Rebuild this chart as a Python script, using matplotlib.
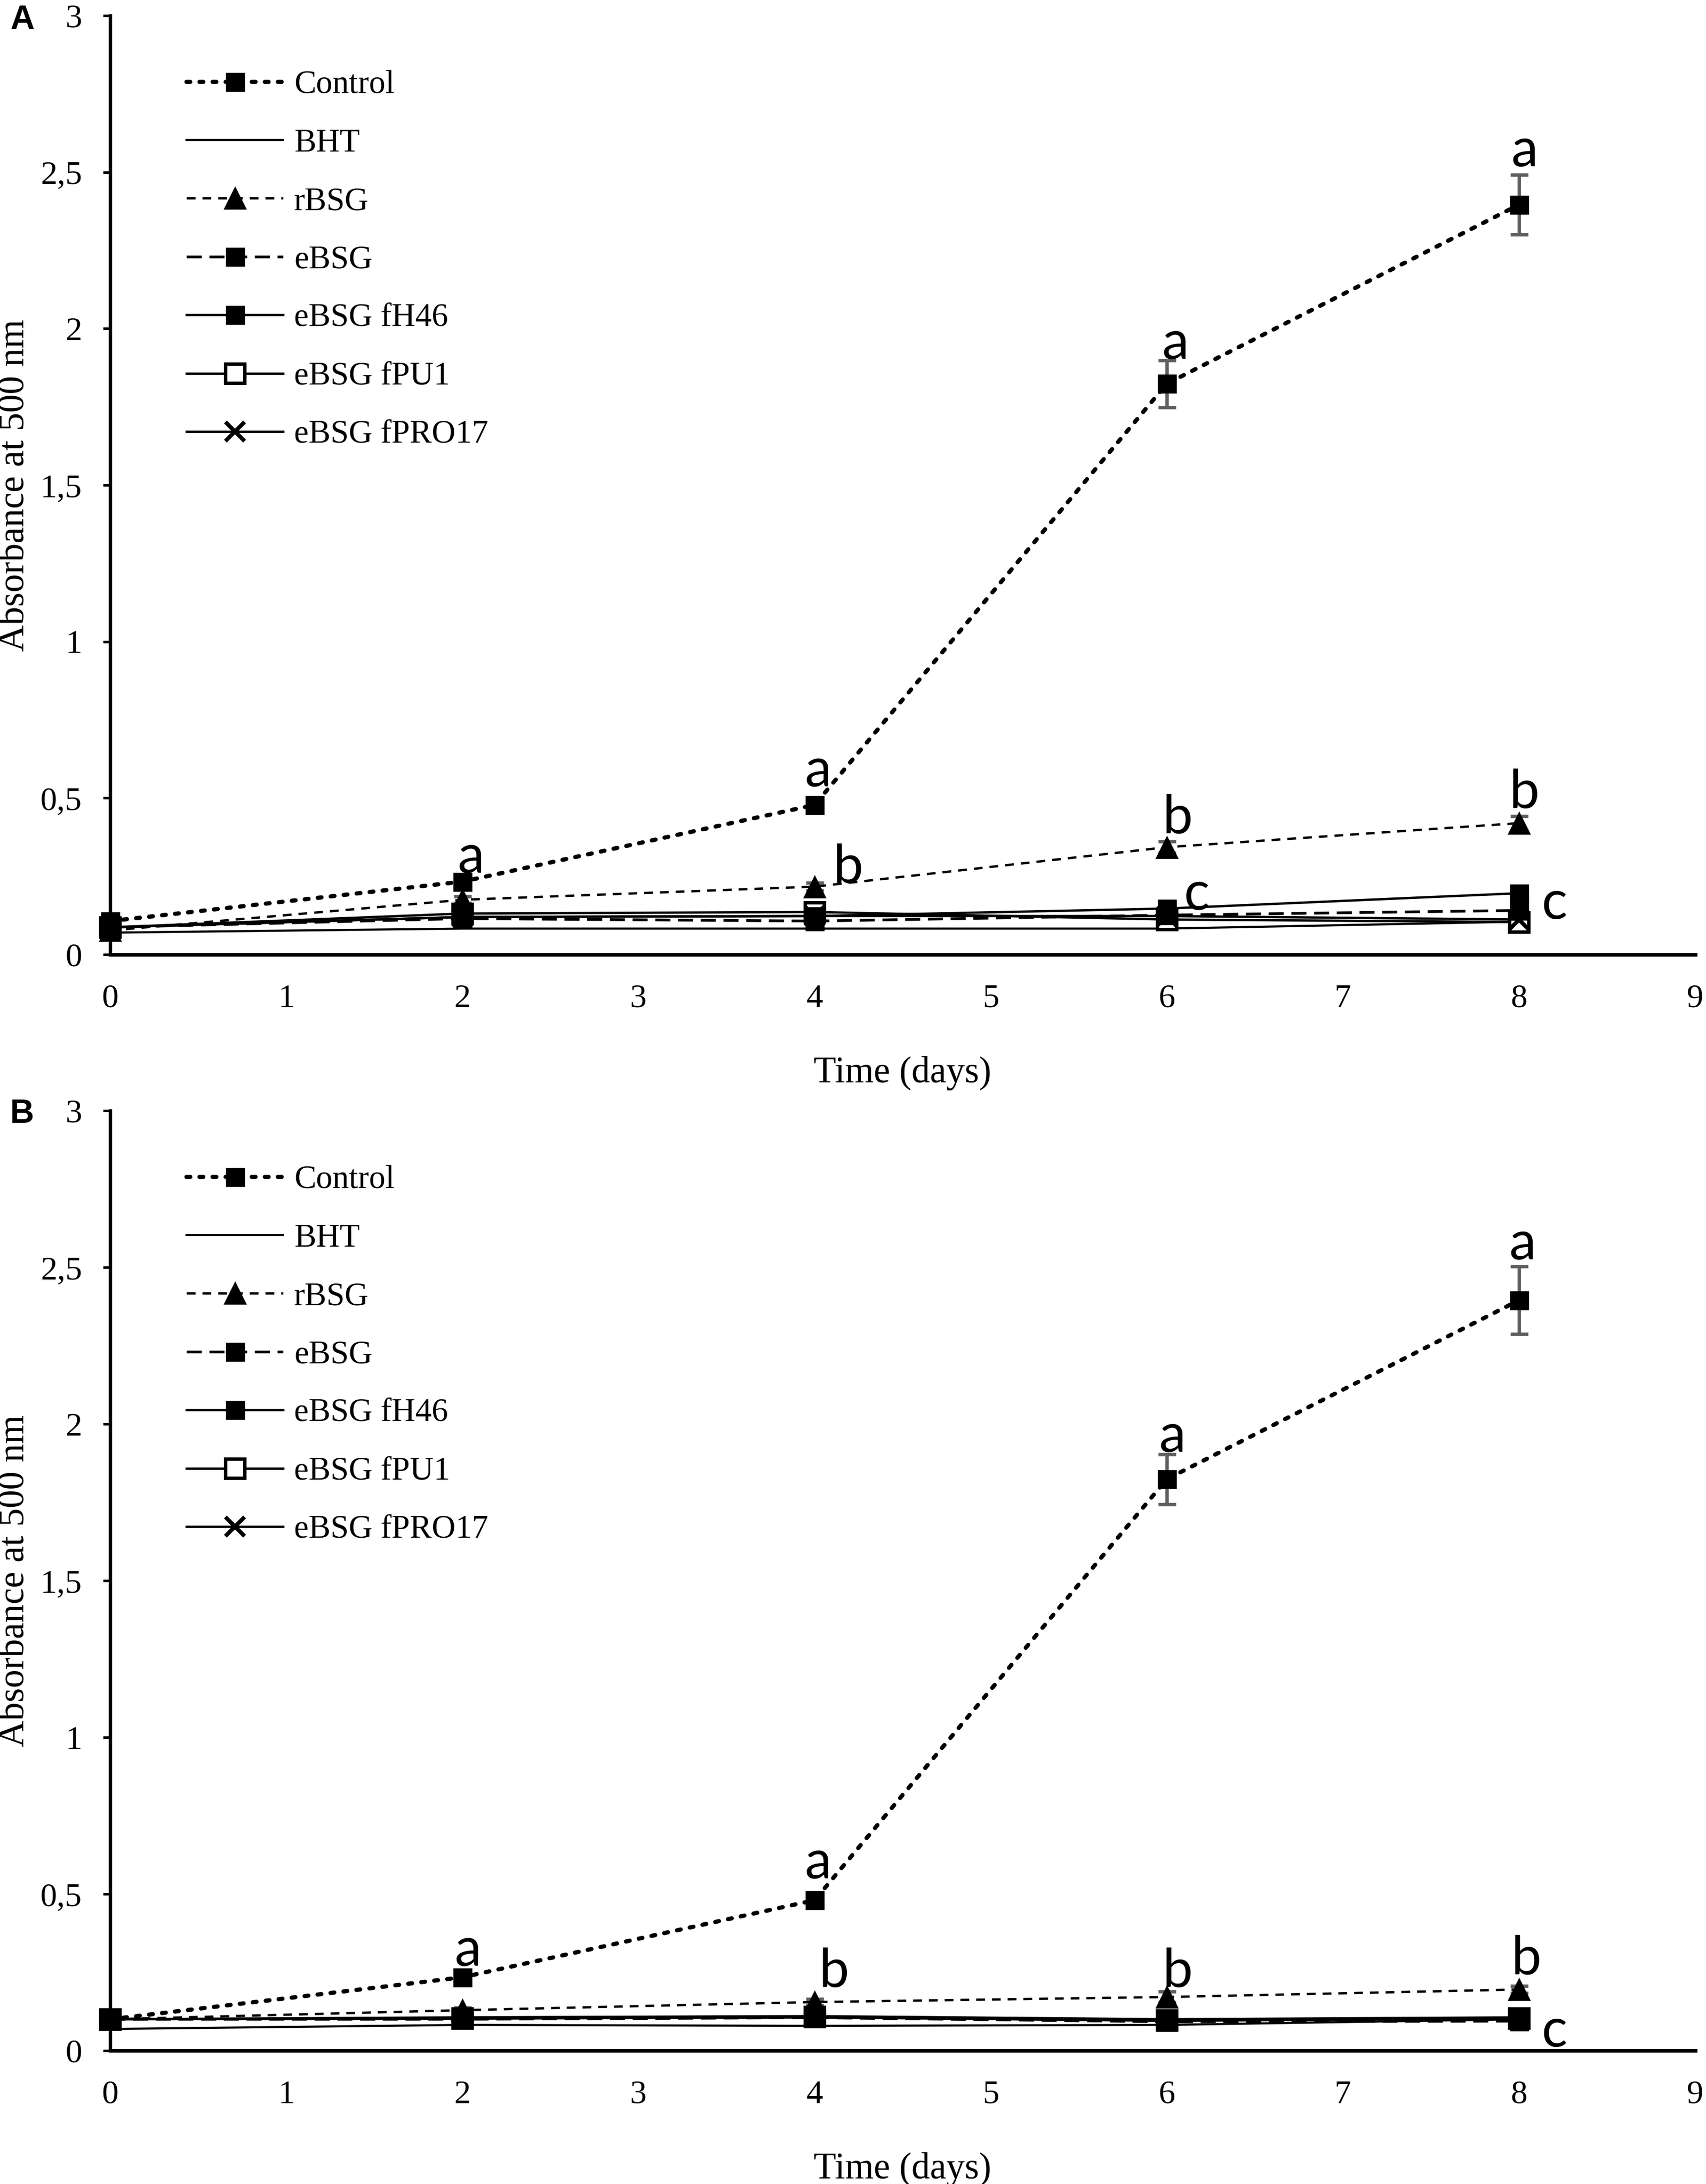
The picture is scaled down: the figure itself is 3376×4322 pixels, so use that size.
import numpy as np
import matplotlib
matplotlib.use("Agg")
import matplotlib.pyplot as plt
from matplotlib.ticker import FuncFormatter

W, H = 3376, 4322
DPI = 300

# ---- data ----
days = [0, 2, 4, 6, 8]
names = ["Control", "BHT", "rBSG", "eBSG", "eBSG fH46", "eBSG fPU1", "eBSG fPRO17"]

# panel A
control_A = [0.107, 0.233, 0.478, 1.824, 2.396]
control_A_err = [0.01, 0.015, 0.02, 0.075, 0.095]
bht_A = [0.070, 0.083, 0.083, 0.083, 0.105]
rbsg_A = [0.077, 0.175, 0.217, 0.343, 0.420]
rbsg_A_err = [0.005, 0.011, 0.012, 0.018, 0.022]
ebsg_A = [0.087, 0.115, 0.107, 0.126, 0.141]
fh46_A = [0.087, 0.120, 0.123, 0.147, 0.196]
fpu1_A = [0.087, 0.131, 0.136, 0.112, 0.104]
fpro17_A = [0.087, 0.120, 0.123, 0.123, 0.112]

# panel B
control_B = [0.100, 0.234, 0.480, 1.824, 2.395]
control_B_err = [0.01, 0.02, 0.015, 0.08, 0.108]
bht_B = [0.069, 0.082, 0.079, 0.082, 0.100]
rbsg_B = [0.100, 0.129, 0.155, 0.171, 0.195]
rbsg_B_err = [0.005, 0.008, 0.01, 0.018, 0.011]
ebsg_B = [0.100, 0.100, 0.105, 0.092, 0.094]
fh46_B = [0.100, 0.106, 0.110, 0.100, 0.106]
fpu1_B = [0.100, 0.104, 0.108, 0.097, 0.104]
fpro17_B = [0.100, 0.102, 0.106, 0.095, 0.102]

# significance letters: (letter, day, absorbance at baseline)
letters_A = [("a", 2.05, 0.262), ("a", 4.02, 0.537), ("a", 6.05, 1.903), ("a", 8.03, 2.519),
             ("b", 4.19, 0.230), ("b", 6.06, 0.387), ("b", 8.03, 0.468),
             ("c", 6.17, 0.144), ("c", 8.20, 0.115)]
letters_B = [("a", 2.03, 0.271), ("a", 4.02, 0.550), ("a", 6.03, 1.911), ("a", 8.02, 2.526),
             ("b", 4.11, 0.203), ("b", 6.06, 0.203), ("b", 8.04, 0.244),
             ("c", 8.20, 0.013)]

xticks = list(range(0, 10))
yticks = [0, 0.5, 1, 1.5, 2, 2.5, 3]

# ---- styles ----
serif = ["Liberation Serif", "DejaVu Serif"]
styles = {
    "Control": dict(color="black", lw=2.0, ls=(0, (0.9, 2.2)), dash_capstyle="round",
                    marker="s", ms=8.4, mfc="black", mec="black", mew=0.6, zorder=9),
    "BHT": dict(color="black", lw=1.0, ls="-", marker=None, zorder=4),
    "rBSG": dict(color="black", lw=1.1, ls=(0, (3.8, 3.0)), marker="^", ms=10,
                 mfc="black", mec="black", mew=0.6, zorder=8),
    "eBSG": dict(color="black", lw=1.3, ls=(0, (5.5, 2.8)), marker="s", ms=8.4,
                 mfc="black", mec="black", mew=0.6, zorder=6),
    "eBSG fH46": dict(color="black", lw=1.1, ls="-", marker="s", ms=8.4,
                      mfc="black", mec="black", mew=0.6, zorder=7),
    "eBSG fPU1": dict(color="black", lw=1.1, ls="-", marker="s", ms=9.0,
                      mfc="white", mec="black", mew=1.6, zorder=4),
    "eBSG fPRO17": dict(color="black", lw=1.1, ls="-", marker="x", ms=9.0,
                        mec="black", mew=1.9, zorder=5),
}
err_color = "#5f5f5f"


def fmt_comma(v, pos):
    return ("%g" % v).replace(".", ",")


def draw_panel(ax, data, errs, letters):
    for name in names:
        st = dict(styles[name])
        z = st.pop("zorder")
        ax.plot(days, data[name], label=name, clip_on=False, zorder=z, **st)
    for name, e in errs.items():
        ax.errorbar(days, data[name], yerr=e, fmt="none", ecolor=err_color,
                    elinewidth=1.6, capsize=4.2, capthick=1.6, zorder=3, clip_on=False)
    for txt, x, y in letters:
        ax.text(x, y, txt, ha="center", va="baseline", fontsize=25.5,
                family=["Lato", "DejaVu Sans"], zorder=10)

    ax.set_xlim(0, 9)
    ax.set_ylim(0, 3)
    ax.set_xticks(xticks)
    ax.set_yticks(yticks)
    ax.yaxis.set_major_formatter(FuncFormatter(fmt_comma))
    for s in ["top", "right"]:
        ax.spines[s].set_visible(False)
    ax.spines["left"].set_linewidth(1.6)
    ax.spines["bottom"].set_linewidth(1.7)
    ax.spines["bottom"].set_zorder(11)
    ax.tick_params(axis="x", length=0, pad=14, labelsize=15.8)
    ax.tick_params(axis="y", length=3.4, width=1.2, pad=10, labelsize=15.8, direction="out")
    for lab in ax.get_xticklabels() + ax.get_yticklabels():
        lab.set_family(serif)
    ax.set_xlabel("Time (days)", fontsize=17.5, family=serif, labelpad=20)
    ax.set_ylabel("Absorbance at 500 nm", fontsize=17.5, family=serif, labelpad=4)

    ax.legend(loc="upper left", frameon=False, numpoints=1,
              handlelength=2.93, handletextpad=0.34, labelspacing=0.86,
              borderpad=0, borderaxespad=0,
              bbox_to_anchor=(0.0483, 0.9420), prop=dict(family=serif, size=15.6))


fig = plt.figure(figsize=(W / DPI, H / DPI), dpi=DPI)
axA = fig.add_axes([218 / W, 1 - 1889 / H, 3136.5 / W, (1889 - 31) / H])
axB = fig.add_axes([218 / W, 1 - 4058 / H, 3136.5 / W, (4058 - 2198) / H])

data_A = dict(zip(names, [control_A, bht_A, rbsg_A, ebsg_A, fh46_A, fpu1_A, fpro17_A]))
data_B = dict(zip(names, [control_B, bht_B, rbsg_B, ebsg_B, fh46_B, fpu1_B, fpro17_B]))

draw_panel(axA, data_A, {"Control": control_A_err, "rBSG": rbsg_A_err}, letters_A)
draw_panel(axB, data_B, {"Control": control_B_err, "rBSG": rbsg_B_err}, letters_B)

fig.text(20 / W, 1 - 57 / H, "A", fontsize=15.8, fontweight="bold",
         family=["Liberation Sans", "DejaVu Sans"], va="baseline", ha="left")
fig.text(20 / W, 1 - 2222 / H, "B", fontsize=15.8, fontweight="bold",
         family=["Liberation Sans", "DejaVu Sans"], va="baseline", ha="left")

fig.savefig("out.png", dpi=DPI)
